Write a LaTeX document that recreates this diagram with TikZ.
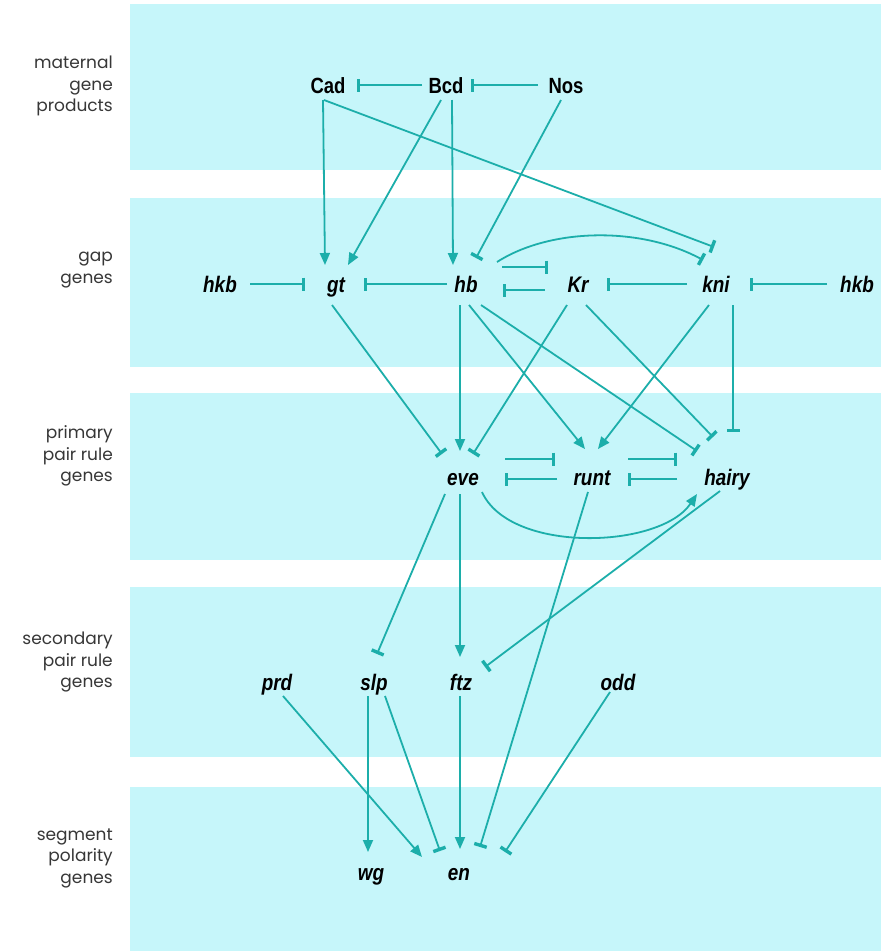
\documentclass[tikz,border=0pt]{standalone}
\usepackage{fontspec}
\usetikzlibrary{arrows.meta,calc}
\newfontfamily\genefont[FakeStretch=0.84]{Liberation Sans}
\newfontfamily\tierfont{Poppins}
\definecolor{bandcyan}{RGB}{198,246,250}
\definecolor{linkteal}{RGB}{28,174,170}
\definecolor{tiergray}{RGB}{55,55,55}
\begin{document}
\begin{tikzpicture}[x=1pt,y=-1pt,
  gene/.style={font=\genefont\bfseries\itshape\fontsize{22.5}{22}\selectfont,
    inner sep=0pt, text height=16pt, text depth=0pt, text=black},
  product/.style={font=\genefont\bfseries\fontsize{22}{22}\selectfont,
    inner sep=0pt, text height=16pt, text depth=0pt, text=black},
  tier/.style={font=\tierfont\fontsize{17}{21.5}\selectfont, align=right,
    anchor=east, inner sep=0pt, text=tiergray},
  link/.style={draw=linkteal, line width=1.8pt},
  act/.style={link, -{Triangle[length=12pt,width=10pt]}},
  rep/.style={link, -{Bar[width=13pt,line width=3.4pt]}}]

\useasboundingbox (0,0) rectangle (881,951);
\fill[white] (0,0) rectangle (881,951);

% horizontal bands, one per tier
\fill[bandcyan] (130,4) rectangle (881,170);
\fill[bandcyan] (130,198) rectangle (881,367);
\fill[bandcyan] (130,393) rectangle (881,560);
\fill[bandcyan] (130,587) rectangle (881,757);
\fill[bandcyan] (130,787) rectangle (881,951);

% tier names
\node[tier] (t1) at (113,86)  {maternal\\gene\\products};
\node[tier] (t2) at (113,270) {gap\\genes};
\node[tier] (t3) at (113,456) {primary\\pair rule\\genes};
\node[tier] (t4) at (113,662) {secondary\\pair rule\\genes};
\node[tier] (t5) at (113,858) {segment\\polarity\\genes};

% maternal gene products
\node[product] (Cad) at (328,85) {Cad};
\node[product] (Bcd) at (446,85) {Bcd};
\node[product] (Nos) at (566,85) {Nos};

% gap genes
\node[gene] (hkbL) at (220,284) {hkb};
\node[gene] (gt)   at (336,284) {gt};
\node[gene] (hb)   at (466,284) {hb};
\node[gene] (Kr)   at (578,284) {Kr};
\node[gene] (kni)  at (716,284) {kni};
\node[gene] (hkbR) at (857,284) {hkb};

% primary pair rule genes
\node[gene] (eve)   at (463,477) {eve};
\node[gene] (runt)  at (592,477) {runt};
\node[gene] (hairy) at (727,477) {hairy};

% secondary pair rule genes
\node[gene] (prd) at (277,682) {prd};
\node[gene] (slp) at (374,682) {slp};
\node[gene] (ftz) at (461,682) {ftz};
\node[gene] (odd) at (618,682) {odd};

% segment polarity genes
\node[gene] (wg) at (371,872) {wg};
\node[gene] (en) at (459,872) {en};

% maternal interactions
\draw[rep] ($(Bcd)+(-24,0)$) -- ($(Cad)+(29,0)$);
\draw[rep] ($(Nos)+(-28,0)$) -- ($(Bcd)+(25,0)$);
\draw[act] ($(Cad)+(-5,15)$) -- ($(gt)+(-11,-19)$);
\draw[act] ($(Bcd)+(-5,15)$) -- ($(gt)+(12,-19)$);
\draw[act] ($(Bcd)+(6,15)$) -- ($(hb)+(-13,-19)$);
\draw[rep] ($(Nos)+(-5,15)$) -- ($(hb)+(10,-26)$);
\draw[rep] ($(Cad)+(-4,15)$) -- ($(kni)+(-2,-37)$);

% gap gene interactions
\draw[rep] ($(hkbL)+(30,0)$) -- ($(gt)+(-31,0)$);
\draw[rep] ($(hb)+(-19,0)$) -- ($(gt)+(28,0)$);
\draw[rep] ($(hb)+(36,-17)$) -- ($(Kr)+(-30,-17)$);
\draw[rep] ($(Kr)+(-33,6)$) -- ($(hb)+(37,6)$);
\draw[rep] ($(kni)+(-29,0)$) -- ($(Kr)+(29,0)$);
\draw[rep] ($(hkbR)+(-30,0)$) -- ($(kni)+(34,0)$);
\draw[rep] ($(hb)+(31,-22)$) .. controls ($(hb)+(84,-56)$) and ($(kni)+(-76,-58)$) .. ($(kni)+(-13,-24)$);

% gap genes onto primary pair rule genes
\draw[rep] ($(gt)+(-4,21)$) -- ($(eve)+(-21,-23)$);
\draw[act] ($(hb)+(-6,21)$) -- ($(eve)+(-3,-26)$);
\draw[rep] ($(Kr)+(-11,21)$) -- ($(eve)+(10,-23)$);
\draw[act] ($(hb)+(3,21)$) -- ($(runt)+(-7,-28)$);
\draw[act] ($(kni)+(-7,21)$) -- ($(runt)+(6,-28)$);
\draw[rep] ($(hb)+(15,21)$) -- ($(hairy)+(-30,-26)$);
\draw[rep] ($(Kr)+(8,21)$) -- ($(hairy)+(-14,-40)$);
\draw[rep] ($(kni)+(17,21)$) -- ($(hairy)+(6,-45)$);

% primary pair rule interactions
\draw[rep] ($(eve)+(42,-18)$) -- ($(runt)+(-37,-18)$);
\draw[rep] ($(runt)+(-35,2)$) -- ($(eve)+(42,2)$);
\draw[rep] ($(runt)+(36,-18)$) -- ($(hairy)+(-50,-18)$);
\draw[rep] ($(hairy)+(-50,2)$) -- ($(runt)+(36,2)$);
\draw[act] ($(eve)+(19,15)$) .. controls ($(eve)+(47,77)$) and ($(hairy)+(-67,72)$) .. ($(hairy)+(-30,17)$);

% primary onto secondary pair rule genes
\draw[rep] ($(eve)+(-18,17)$) -- ($(slp)+(3,-28)$);
\draw[act] ($(eve)+(-3,17)$) -- ($(ftz)+(-1,-25)$);
\draw[rep] ($(hairy)+(-7,14)$) -- ($(ftz)+(24,-15)$);
\draw[rep] ($(runt)+(-4,15)$) -- ($(en)+(21,-25)$);

% onto segment polarity genes
\draw[act] ($(slp)+(-6,14)$) -- ($(wg)+(-3,-20)$);
\draw[act] ($(prd)+(6,14)$) -- ($(en)+(-37,-15)$);
\draw[rep] ($(slp)+(11,14)$) -- ($(en)+(-19,-21)$);
\draw[act] ($(ftz)+(-1,14)$) -- ($(en)+(1,-23)$);
\draw[rep] ($(odd)+(-8,10)$) -- ($(en)+(46,-20)$);
\end{tikzpicture}
\end{document}
